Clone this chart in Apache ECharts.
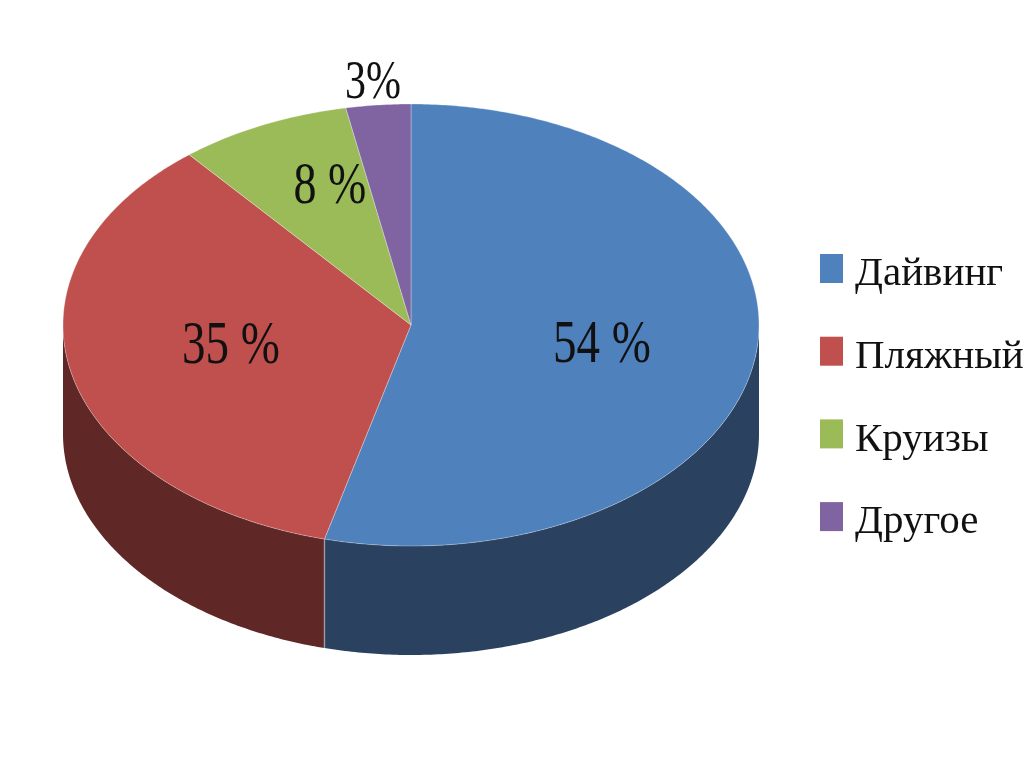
<!DOCTYPE html>
<html style="height: 100%">
<head>
    <meta charset="utf-8">
</head>
<body style="height: 100%; margin: 0; background: #fff">
    <div id="container" style="width: 1024px; height: 767px;"></div>

    <script src="https://cdn.jsdelivr.net/npm/echarts@6/dist/echarts.min.js"></script>
    <script>
// data
var categories = ['Дайвинг', 'Пляжный', 'Круизы', 'Другое'];
var values = [54, 35, 8, 3];
var labels = ['54 %', '35 %', '8 %', '3%'];

var topColors = ['#4f81bd', '#c0504d', '#9bbb59', '#8064a2'];
var wallColors = ['#2a4260', '#5f2826', '#5f7035', '#4c3c61'];

// the tilted disc
var CX = 411, CY = 325, RX = 348, RY = 221, DEPTH = 109;
// label centres, relative to the disc centre
var labelOffset = [[191, 21], [-180, 22], [-81, -138], [-38, -241]];
var labelFontSize = [47, 47, 46, 42];

var total = values.reduce(function (a, b) { return a + b; }, 0);

// angle is clockwise from twelve o'clock
function rimPoint(angle, drop) {
    return [CX + RX * Math.sin(angle), CY - RY * Math.cos(angle) + drop];
}

function arc(from, to, drop) {
    var pts = [];
    var steps = Math.max(2, Math.ceil((to - from) / 0.01));
    for (var i = 0; i <= steps; i++) {
        pts.push(rimPoint(from + (to - from) * i / steps, drop));
    }
    return pts;
}

function sliceStart(index) {
    var sum = 0;
    for (var i = 0; i < index; i++) sum += values[i];
    return sum / total * Math.PI * 2;
}

function makeRenderItem(index) {
    return function (params, api) {
        var start = sliceStart(index);
        var end = start + api.value(0) / total * Math.PI * 2;
        var children = [];

        // only the front half of the rim shows a wall
        var wallFrom = Math.max(start, Math.PI / 2);
        var wallTo = Math.min(end, Math.PI * 1.5);
        if (wallTo > wallFrom) {
            var wall = arc(wallFrom, wallTo, 0).concat(arc(wallFrom, wallTo, DEPTH).reverse());
            children.push({
                type: 'polygon',
                shape: {points: wall},
                style: {fill: wallColors[index]}
            });
            if (wallFrom > Math.PI / 2) {
                children.push({
                    type: 'line',
                    shape: {
                        x1: rimPoint(wallFrom, 0)[0], y1: rimPoint(wallFrom, 0)[1],
                        x2: rimPoint(wallFrom, DEPTH)[0], y2: rimPoint(wallFrom, DEPTH)[1]
                    },
                    style: {stroke: 'rgba(255,255,255,0.35)', lineWidth: 1.5}
                });
            }
        }

        children.push({
            type: 'polygon',
            shape: {points: [[CX, CY]].concat(arc(start, end, 0))},
            style: {fill: topColors[index], stroke: 'rgba(255,255,255,0.3)', lineWidth: 1}
        });

        children.push({
            type: 'text',
            x: CX + labelOffset[index][0],
            y: CY + labelOffset[index][1],
            scaleY: 1.3,
            z2: 10,
            style: {
                text: labels[index],
                fill: '#111',
                font: labelFontSize[index] + 'px "Liberation Serif"',
                align: 'center',
                verticalAlign: 'middle'
            }
        });

        return {type: 'group', children: children};
    };
}

var myChart = echarts.init(document.getElementById('container'));

var series = categories.map(function (name, i) {
    return {
        name: name,
        type: 'custom',
        coordinateSystem: 'none',
        silent: true,
        animation: false,
        itemStyle: {color: topColors[i]},
        renderItem: makeRenderItem(i),
        data: [[values[i]]]
    };
});

myChart.setOption({
    backgroundColor: '#fff',
    animation: false,
    legend: {
        orient: 'vertical',
        left: 820,
        top: 254,
        padding: 0,
        itemWidth: 23,
        itemHeight: 29,
        itemGap: 41.7,
        icon: 'rect',
        selectedMode: false,
        data: categories,
        formatter: '{t|{name}}',
        textStyle: {
            rich: {
                t: {
                    color: '#111',
                    fontFamily: 'Liberation Serif',
                    fontSize: 41,
                    padding: [12, 0, 0, 7]
                }
            }
        }
    },
    series: series
});
    </script>
</body>
</html>
